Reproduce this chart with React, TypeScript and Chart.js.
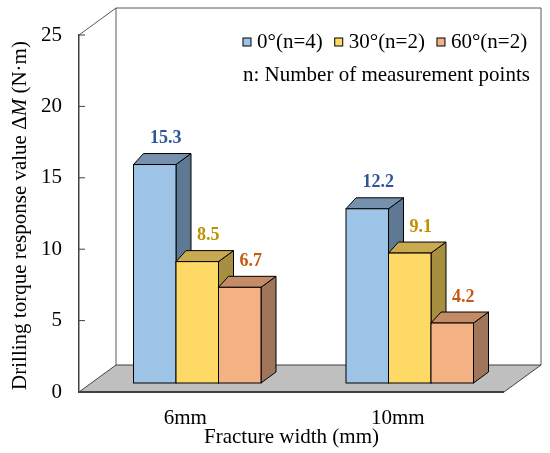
import { useEffect, useRef } from "react"
import { Chart, registerables } from "chart.js"

Chart.register(...registerables)

const categories = ["6mm", "10mm"]
const seriesLabels = ["0°(n=4)", "30°(n=2)", "60°(n=2)"]
const angle0 = [15.3, 12.2]
const angle30 = [8.5, 9.1]
const angle60 = [6.7, 4.2]
const yTicks = [0, 5, 10, 15, 20, 25]
const noteText = "n: Number of measurement points"

const frontColors = ["#9DC3E6", "#FFD966", "#F4B183"]
const topColors = ["#7691AE", "#C9AA50", "#C58B67"]
const sideColors = ["#5F7995", "#A68F3F", "#A0765A"]
const valueColors = ["#2F5597", "#BF9000", "#C55A11"]

const FONT = "'Liberation Serif', 'Times New Roman', serif"

// wall / floor depth and bar placement inside it
const DEPTH_X = 37
const DEPTH_Y = -27
const SHIFT_X = 12
const SHIFT_Y = -9
const BAR_DX_L = 10
const BAR_DX_R = 15
const BAR_DY = -11

const box3d = {
  id: "box3d",
  beforeDatasetsDraw(chart: any) {
    const { ctx, chartArea } = chart
    const { left, right, top, bottom } = chartArea
    ctx.save()
    ctx.lineWidth = 1
    ctx.strokeStyle = "#595959"
    // left wall + back wall outline
    ctx.beginPath()
    ctx.moveTo(left, top)
    ctx.lineTo(left + DEPTH_X, top + DEPTH_Y)
    ctx.lineTo(right + DEPTH_X, top + DEPTH_Y)
    ctx.lineTo(right + DEPTH_X, bottom + DEPTH_Y)
    ctx.moveTo(left + DEPTH_X, top + DEPTH_Y)
    ctx.lineTo(left + DEPTH_X, bottom + DEPTH_Y)
    ctx.stroke()

    // floor
    ctx.beginPath()
    ctx.moveTo(left, bottom)
    ctx.lineTo(right, bottom)
    ctx.lineTo(right + DEPTH_X, bottom + DEPTH_Y)
    ctx.lineTo(left + DEPTH_X, bottom + DEPTH_Y)
    ctx.closePath()
    ctx.fillStyle = "#BFBFBF"
    ctx.fill()
    ctx.strokeStyle = "#404040"
    ctx.stroke()
    ctx.lineWidth = 2
    ctx.beginPath()
    ctx.moveTo(left, bottom)
    ctx.lineTo(right, bottom)
    ctx.stroke()

    // inward tick marks on the front axis
    const ys = chart.scales.y
    ctx.lineWidth = 1
    ys.ticks.forEach((t: any) => {
      const py = ys.getPixelForValue(t.value)
      ctx.beginPath()
      ctx.moveTo(left, py)
      ctx.lineTo(left + 6, py)
      ctx.stroke()
    })
    ctx.restore()
  },
  afterDatasetsDraw(chart: any) {
    const { ctx } = chart
    ctx.save()
    ctx.lineWidth = 1
    ctx.strokeStyle = "#000"
    const count = chart.data.labels.length
    for (let i = 0; i < count; i++) {
      chart.data.datasets.forEach((ds: any, di: number) => {
        const el = chart.getDatasetMeta(di).data[i]
        const { x, y, base, width } = el.getProps(["x", "y", "base", "width"], true)
        const x0 = x - width / 2 + SHIFT_X
        const x1 = x + width / 2 + SHIFT_X
        const yt = y + SHIFT_Y
        const yb = base + SHIFT_Y
        // side
        ctx.beginPath()
        ctx.moveTo(x1, yt)
        ctx.lineTo(x1 + BAR_DX_R, yt + BAR_DY)
        ctx.lineTo(x1 + BAR_DX_R, yb + BAR_DY)
        ctx.lineTo(x1, yb)
        ctx.closePath()
        ctx.fillStyle = sideColors[di]
        ctx.fill()
        ctx.stroke()
        // top
        ctx.beginPath()
        ctx.moveTo(x0, yt)
        ctx.lineTo(x0 + BAR_DX_L, yt + BAR_DY)
        ctx.lineTo(x1 + BAR_DX_R, yt + BAR_DY)
        ctx.lineTo(x1, yt)
        ctx.closePath()
        ctx.fillStyle = topColors[di]
        ctx.fill()
        ctx.stroke()
        // front
        ctx.fillStyle = frontColors[di]
        ctx.fillRect(x0, yt, x1 - x0, yb - yt)
        ctx.strokeRect(x0, yt, x1 - x0, yb - yt)
        // value label
        ctx.font = `bold 18px ${FONT}`
        ctx.fillStyle = valueColors[di]
        ctx.textAlign = "center"
        ctx.textBaseline = "bottom"
        ctx.fillText(ds.data[i].toFixed(1), (x0 + x1) / 2 + 11, yt + BAR_DY - 6)
      })
    }
    ctx.restore()
  },
  afterDraw(chart: any) {
    const { ctx, chartArea } = chart
    ctx.save()
    // legend
    ctx.font = `21px ${FONT}`
    ctx.textBaseline = "middle"
    ctx.textAlign = "left"
    let lx = 243
    const ly = 42
    seriesLabels.forEach((label, i) => {
      ctx.fillStyle = frontColors[i]
      ctx.fillRect(lx, ly - 4, 8, 8)
      ctx.strokeStyle = "#000"
      ctx.lineWidth = 1
      ctx.strokeRect(lx, ly - 4, 8, 8)
      ctx.fillStyle = "#000"
      ctx.fillText(label, lx + 14, ly)
      lx += 14 + ctx.measureText(label).width + 12
    })
    ctx.fillText(noteText, 243, 75)

    // y axis title with italic M
    const parts = [
      { t: "Drilling torque response value Δ", f: `21px ${FONT}` },
      { t: "M", f: `italic 21px ${FONT}` },
      { t: " (N·m)", f: `21px ${FONT}` },
    ]
    let total = 0
    parts.forEach((p) => {
      ctx.font = p.f
      total += ctx.measureText(p.t).width
    })
    ctx.translate(20, (chartArea.top + chartArea.bottom) / 2 + 2)
    ctx.rotate(-Math.PI / 2)
    let px = -total / 2
    parts.forEach((p) => {
      ctx.font = p.f
      ctx.fillText(p.t, px, 0)
      px += ctx.measureText(p.t).width
    })
    ctx.restore()
  },
}

export default function App() {
  const chartRef = useRef<HTMLCanvasElement>(null)
  const chartInstance = useRef<Chart | null>(null)

  useEffect(() => {
    if (!chartRef.current) return
    if (chartInstance.current) chartInstance.current.destroy()
    const ctx = chartRef.current.getContext("2d")
    if (!ctx) return

    Chart.defaults.font.family = FONT

    chartInstance.current = new Chart(ctx, {
      type: "bar",
      data: {
        labels: categories,
        datasets: [angle0, angle30, angle60].map((d, i) => ({
          label: seriesLabels[i],
          data: d,
          backgroundColor: "rgba(0,0,0,0)",
          borderWidth: 0,
          categoryPercentage: 0.6,
          barPercentage: 1.0,
        })),
      },
      options: {
        animation: false,
        responsive: true,
        maintainAspectRatio: false,
        layout: { padding: { left: 0, right: 46, top: 35, bottom: 0 } },
        plugins: {
          legend: { display: false },
          tooltip: { enabled: false },
        },
        scales: {
          x: {
            grid: { display: false, drawTicks: false },
            border: { display: false },
            ticks: { color: "#000", font: { size: 21 }, padding: 14 },
            title: {
              display: true,
              text: "Fracture width (mm)",
              color: "#000",
              font: { size: 21 },
              padding: { top: 0, bottom: 3 },
            },
            afterFit: (s: any) => {
              s.height = 61
            },
          },
          y: {
            min: 0,
            max: 25,
            afterBuildTicks: (s: any) => {
              s.ticks = yTicks.map((v) => ({ value: v }))
            },
            grid: { display: false, drawTicks: false },
            border: { display: true, color: "#404040", width: 1.5 },
            ticks: { color: "#000", font: { size: 21 }, padding: 17 },
            afterFit: (s: any) => {
              s.width = 79
            },
          },
        },
      },
      plugins: [box3d],
    })

    return () => {
      if (chartInstance.current) {
        chartInstance.current.destroy()
        chartInstance.current = null
      }
    }
  }, [])

  return (
    <div style={{ position: "absolute", left: 0, top: 0, width: 550, height: 453, background: "#fff" }}>
      <canvas ref={chartRef} />
    </div>
  )
}
